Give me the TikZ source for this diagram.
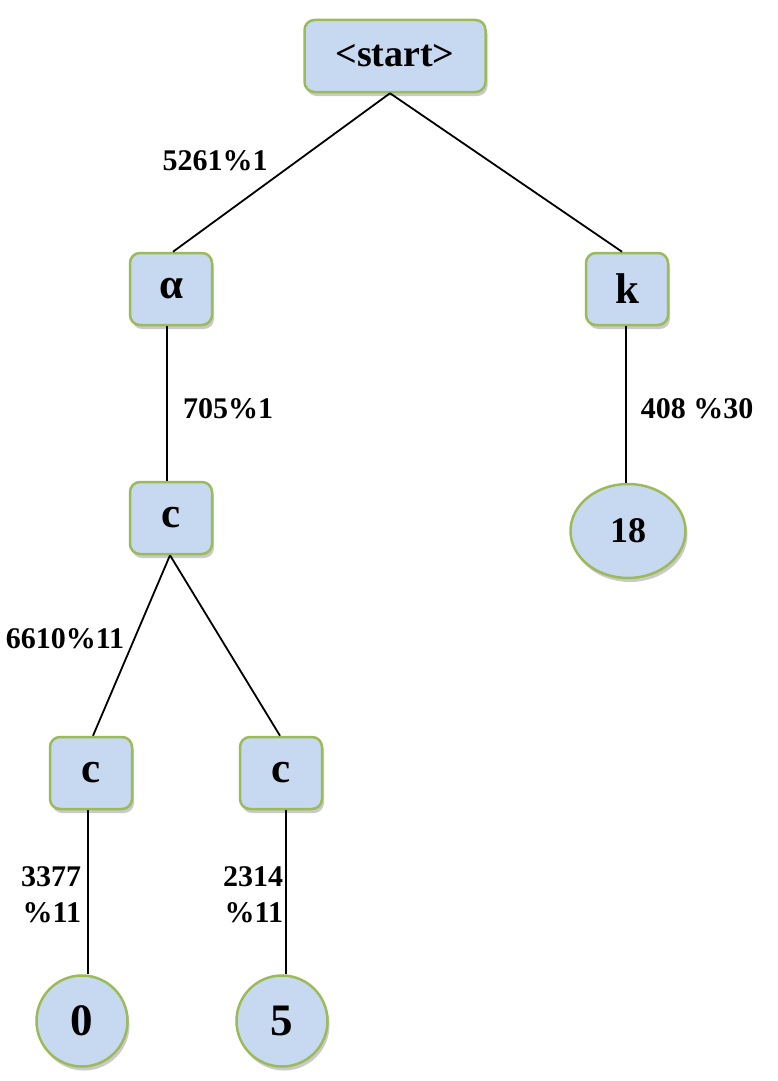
\documentclass[tikz,border=0pt]{standalone}
\usepackage{fontspec}
\setmainfont{Liberation Serif}
\usetikzlibrary{shadows,shapes.geometric}
\definecolor{nfill}{RGB}{198,217,240}
\definecolor{nborder}{RGB}{155,187,89}
\begin{document}
\begin{tikzpicture}[x=1pt,y=-1pt,
  shad/.style={drop shadow={shadow xshift=2pt,shadow yshift=-4pt,opacity=0.35,fill=black!60}},
  boxnode/.style={draw=nborder,line width=2.5pt,fill=nfill,rounded corners=10pt,shad,
    minimum width=82pt,minimum height=72pt,inner sep=0pt,font=\fontsize{43}{48}\selectfont\bfseries},
  leaf/.style={ellipse,draw=nborder,line width=2.5pt,fill=nfill,shad,inner sep=0pt,
    font=\fontsize{45}{48}\selectfont\bfseries},
  elabel/.style={font=\fontsize{30}{36}\selectfont\bfseries,inner sep=0pt},
  edge/.style={line width=1.8pt,black}]
\useasboundingbox (0,0) rectangle (777,1081);
\node[boxnode,minimum width=181pt,font=\fontsize{38}{44}\selectfont\bfseries] (start) at (395,56) {<start>};
\node[boxnode] (a) at (171,289) {α};
\node[boxnode] (k) at (627,289) {k};
\node[boxnode] (c1) at (171,518) {c};
\node[boxnode] (c2) at (91,773) {c};
\node[boxnode] (c3) at (281,773) {c};
\node[leaf,minimum width=115pt,minimum height=94pt,font=\fontsize{36}{40}\selectfont\bfseries] (n18) at (628,531) {18};
\node[leaf,minimum width=91pt,minimum height=91pt] (n0) at (82,1021) {0};
\node[leaf,minimum width=91pt,minimum height=91pt] (n5) at (282,1021) {5};
\draw[edge] ([xshift=-5pt]start.south) -- ([xshift=2pt]a.north);
\draw[edge] ([xshift=-5pt]start.south) -- ([xshift=-5pt]k.north);
\draw[edge] ([xshift=-4pt]a.south) -- ([xshift=-4pt]c1.north);
\draw[edge] ([xshift=-1pt]c1.south) -- ([xshift=2pt]c2.north);
\draw[edge] ([xshift=-1pt]c1.south) -- ([xshift=-1pt]c3.north);
\draw[edge] ([xshift=-1pt]k.south) -- ([xshift=-2pt]n18.north);
\draw[edge] ([xshift=-3pt]c2.south) -- ([xshift=6pt]n0.north);
\draw[edge] ([xshift=5pt]c3.south) -- ([xshift=4pt]n5.north);
\node[elabel] (l1) at (215,161) {5261\%1};
\node[elabel] (l2) at (228,409) {705\%1};
\node[elabel] (l3) at (697,409) {408 \%30};
\node[elabel] (l4) at (65,639) {6610\%11};
\node[elabel,align=right] (l5) at (51,895) {3377\\\%11};
\node[elabel,align=right] (l6) at (253,895) {2314\\\%11};
\end{tikzpicture}
\end{document}
